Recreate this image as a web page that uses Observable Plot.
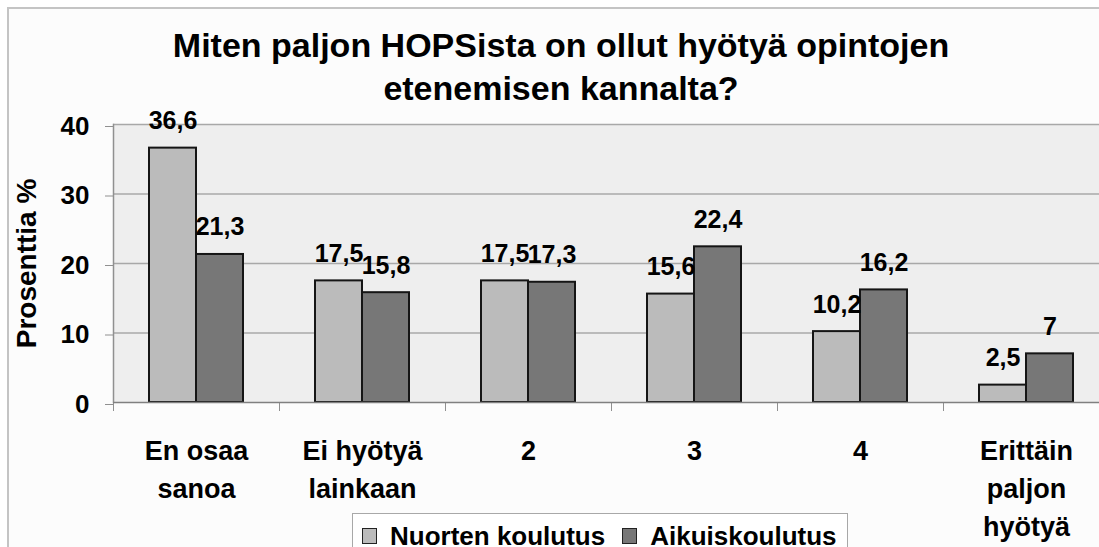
<!DOCTYPE html>
<html>
<head>
<meta charset="utf-8">
<script src="https://cdn.jsdelivr.net/npm/d3@7"></script>
<script src="https://cdn.jsdelivr.net/npm/@observablehq/plot@0.6"></script>
<style>
html, body { margin: 0; padding: 0; overflow: hidden; background: #ffffff; }
#wrap { position: relative; width: 1099px; height: 547px; overflow: hidden; font-family: "Liberation Sans", Arial, sans-serif; }
#border { position: absolute; left: 7px; top: 7px; width: 1200px; height: 600px; border-left: 2px solid #c4c4c4; border-top: 2px solid #c4c4c4; background: #fcfcfc; }
#chart { position: absolute; left: 0; top: 0; }
#title { position: absolute; left: 161px; width: 800px; top: 24px; text-align: center; font-weight: bold; font-size: 34px; line-height: 43px; color: #000; }
#legend { position: absolute; left: 352px; top: 513px; width: 496px; height: 60px; border: 1px solid #a8a8a8; background: #ffffff; box-sizing: border-box; padding: 7px 0 0 9px; display: flex; align-items: flex-start; font-weight: bold; font-size: 26px; line-height: 30px; }
#legend .item { display: flex; align-items: center; height: 30px; }
#legend .sw { width: 13px; height: 14px; border: 1px solid #222; margin-right: 13px; }
</style>
</head>
<body>
<div id="wrap">
  <div id="border"></div>
  <div id="chart"></div>
  <div id="title">Miten paljon HOPSista on ollut hyötyä opintojen<br>etenemisen kannalta?</div>
  <div id="legend"></div>
</div>
<script>
// ---- data ----
const categories = ["En osaa\nsanoa", "Ei hyötyä\nlainkaan", "2", "3", "4", "Erittäin\npaljon\nhyötyä"];
const nuorten = [36.6, 17.5, 17.5, 15.6, 10.2, 2.5];
const aikuis = [21.3, 15.8, 17.3, 22.4, 16.2, 7];
const series = ["Nuorten koulutus", "Aikuiskoulutus"];
const seriesColors = ["#bbbbbb", "#777777"];
const yTicks = [0, 10, 20, 30, 40];
const yLabel = "Prosenttia %";

const rows = categories.map((c, i) => ({cat: c, nuorten: nuorten[i], aikuis: aikuis[i]}));
const fmt = v => String(v).replace(".", ",");

const chart = Plot.plot({
  width: 1120,
  height: 547,
  marginLeft: 113,
  marginRight: 11,
  marginTop: 124,
  marginBottom: 145,
  style: {maxWidth: "none", overflow: "visible", background: "transparent", fontFamily: "'Liberation Sans', Arial, sans-serif"},
  x: {domain: categories, padding: 0, axis: null},
  y: {domain: [0, 40], axis: null},
  marks: [
    Plot.frame({fill: "#eeeeee", stroke: null}),
    Plot.ruleY(yTicks.filter(d => d > 0), {stroke: "#a8a8a8", strokeWidth: 1.5}),
    Plot.frame({anchor: "left", stroke: "#909090", strokeWidth: 1.5}),
    Plot.axisY({ticks: yTicks, tickSize: 8, tickPadding: 16, stroke: "#909090", fill: "#000", fontSize: 26, fontWeight: "bold", label: null, dy: 2}),
    Plot.axisX({tickSize: 9, tickFormat: () => "", dx: -83, stroke: "#909090", label: null}),
    Plot.barY(rows, {x: "cat", y: "nuorten", fill: seriesColors[0], stroke: "#151515", strokeWidth: 2, insetLeft: 36, insetRight: 83}),
    Plot.barY(rows, {x: "cat", y: "aikuis", fill: seriesColors[1], stroke: "#151515", strokeWidth: 2, insetLeft: 83, insetRight: 36}),
    Plot.ruleY([0], {stroke: "#808080", strokeWidth: 1.5}),
    Plot.text(rows, {x: "cat", y: "nuorten", text: d => fmt(d.nuorten), dx: -23.5, dy: -19, lineAnchor: "bottom", fontSize: 25, fontWeight: "bold", fill: "#000"}),
    Plot.text(rows, {x: "cat", y: "aikuis", text: d => fmt(d.aikuis), dx: 23.5, dy: -19, lineAnchor: "bottom", fontSize: 25, fontWeight: "bold", fill: "#000"}),
    Plot.text(categories, {x: d => d, text: d => d, frameAnchor: "bottom", lineAnchor: "top", dy: 30, lineHeight: 1.41, fontSize: 27, fontWeight: "bold", fill: "#000"}),
    Plot.text([yLabel], {text: d => d, frameAnchor: "left", textAnchor: "middle", rotate: -90, dx: -86, fontSize: 28, fontWeight: "bold", fill: "#000"})
  ]
});
document.getElementById("chart").appendChild(chart);

// ---- legend ----
const legend = document.getElementById("legend");
series.forEach((s, i) => {
  const item = document.createElement("div");
  item.className = "item";
  item.style.marginRight = i === 0 ? "17px" : "0";
  const sw = document.createElement("span");
  sw.className = "sw";
  sw.style.background = seriesColors[i];
  const tx = document.createElement("span");
  tx.textContent = s;
  item.appendChild(sw);
  item.appendChild(tx);
  legend.appendChild(item);
});
</script>
</body>
</html>
